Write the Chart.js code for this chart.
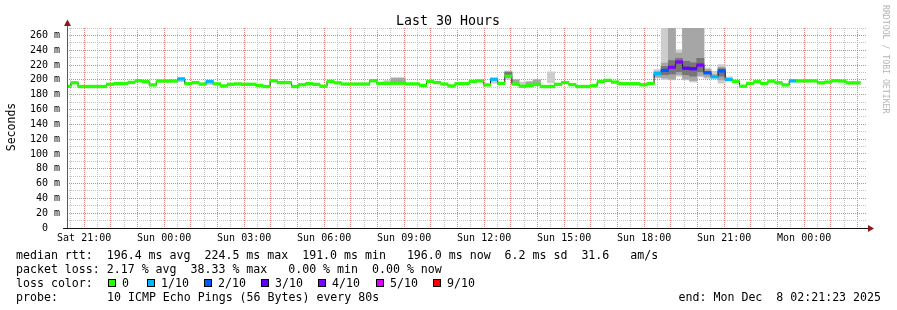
<!DOCTYPE html>
<html lang="en">
<head>
<meta charset="utf-8">
<title>Last 30 Hours</title>
<script src="https://cdn.jsdelivr.net/npm/chart.js@4.4.1/dist/chart.umd.min.js"></script>
<style>
  html, body { margin: 0; padding: 0; background: #fff; }
</style>
</head>
<body>
<canvas id="graph" width="897" height="310"></canvas>
<script>
// one rrd step = 16 minutes; x is minutes after 20:21:23 (left edge of graph)
var stepMinutes = 16;
var firstStepStart = -7;

// median rtt per step (ms), first entry is the partial step at the left edge
var median = [
  191.2,
  196, 191, 191, 191, 191, 194, 195, 195, 196.5, 198.8,
  197.5, 193.2, 198.4, 198.4, 198.4, 201.3, 194.8, 196.3, 194.3, 197.7,
  194.6, 191.8, 194, 194.5, 194, 194, 192.5, 191, 198.8, 196.3,
  196.3, 191, 193.4, 194.8, 193.9, 191.4, 198, 196, 194.3, 194.3,
  194.3, 194.3, 198.8, 195.2, 195.2, 195.5, 195.5, 194.5, 194.5, 192.5,
  198, 196.3, 194.3, 191.8, 194.8, 194.8, 197.7, 198.6, 193.2, 200.8,
  195.2, 204.9, 194.3, 191.4, 192.3, 194, 191, 191, 194, 196.3,
  193.6, 191, 191, 192.3, 197.5, 199.3, 197, 194.8, 194.8, 194.8,
  193.4, 195, 208.5, 212.7, 217, 224.1, 215.7, 215, 219.9, 209.6,
  204, 212, 200.4, 198, 191.4, 195.2, 197.5, 195, 198.3, 196.1,
  193.2, 198.6, 198.6, 198.6, 198.6, 196, 197, 198.8, 198.4, 195.9,
  196
];

// steps (index into median, counting the edge step as 0) that lost pings
var lossAt    = [16, 20, 60, 83, 84, 85, 86, 87, 88, 89, 90, 91, 92, 93, 102];
var lossLevel = [1, 1, 1, 1, 2, 4, 4, 3, 3, 4, 2, 1, 2, 1, 1];

// smoke: spread of the single pings, light outer band
var smokeAt   = [16, 20, 45, 46, 47, 60, 62, 63, 64, 65, 66, 68, 83, 84, 85, 86, 87, 88, 89, 90, 91, 92, 93];
var smokeLow  = [197.5, 193.6, 195, 195, 195, 195.5, 201, 194, 191, 191, 193, 196, 202.6, 200.4, 200, 204.8, 200, 197, 204, 202, 202.6, 195.5, 199];
var smokeHigh = [201, 198, 199, 203, 203, 200, 212, 200, 197, 198, 200, 210.7, 213.8, 300, 300, 240.5, 300, 300, 300, 216, 211.6, 220.5, 204];

// middle band
var midAt   = [46, 47, 62, 63, 65, 66, 83, 84, 85, 86, 87, 88, 89, 90, 91, 92];
var midLow  = [197, 197, 203, 196, 193, 196, 204, 202.6, 201, 207, 201, 199, 206, 204, 203, 200];
var midHigh = [202, 202, 211, 200, 197, 200, 211, 222.7, 300, 236, 300, 300, 300, 214, 207, 217];

// dark core
var coreAt   = [62, 84, 85, 86, 87, 88, 89, 92];
var coreLow  = [205, 207, 208, 211, 207, 205, 211, 205];
var coreHigh = [210, 218, 226, 229, 225, 223, 229, 215];

var xTickLabels = ['Sat 21:00', 'Sun 00:00', 'Sun 03:00', 'Sun 06:00', 'Sun 09:00',
                   'Sun 12:00', 'Sun 15:00', 'Sun 18:00', 'Sun 21:00', 'Mon 00:00'];
var firstLabelMinute = 38.617;   // 21:00 - 20:21:23
var offsetInHour = 21.383;       // left edge is 21.383 min past the hour

var lossColors = ['#26ff00', '#00b8ff', '#0059ff', '#5e00ff', '#7e00ff', '#dd00ff', '#ff0000'];
var lossNames  = ['0', '1/10', '2/10', '3/10', '4/10', '5/10', '9/10'];

var MONO = '"DejaVu Sans Mono", "Liberation Mono", monospace';
var RED_GRID = '#e88080';
var GRAY_GRID = '#c4c4c4';

function stepCenter(i) {
  return firstStepStart + stepMinutes * (i + 0.5);
}

function lossOf(i) {
  var k = lossAt.indexOf(i);
  return k < 0 ? 0 : lossLevel[k];
}

function bandData(at, low, high) {
  return at.map(function (s, k) { return {x: stepCenter(s), y: [low[k], high[k]]}; });
}

var medianBand = median.map(function (m, i) { return {x: stepCenter(i), y: [m - 1.7, m + 1.7]}; });
var medianLine = median.map(function (m, i) { return {x: stepCenter(i), y: m}; });
var bandColors = median.map(function (m, i) { return lossColors[lossOf(i)]; });

var barBase = {
  type: 'bar', grouped: false, categoryPercentage: 1, barPercentage: 1,
  borderWidth: 0, inflateAmount: 0.4
};

function bars(extra) {
  return Object.assign({}, barBase, extra);
}

var extras = {
  id: 'extras',
  afterDraw: function (chart) {
    var c = chart.ctx;
    var a = chart.chartArea;
    c.save();

    // axes and arrows
    c.strokeStyle = '#5a5a5a';
    c.lineWidth = 1;
    c.beginPath();
    c.moveTo(a.left + 0.5, a.bottom);
    c.lineTo(a.left + 0.5, 24);
    c.stroke();
    c.strokeStyle = '#111';
    c.beginPath();
    c.moveTo(63, a.bottom + 0.5);
    c.lineTo(a.right + 2, a.bottom + 0.5);
    c.stroke();
    c.fillStyle = '#8b1a1a';
    c.beginPath();
    c.moveTo(a.left + 0.5, 19.5);
    c.lineTo(a.left - 3, 26);
    c.lineTo(a.left + 4, 26);
    c.closePath();
    c.fill();
    c.beginPath();
    c.moveTo(a.right + 7, a.bottom + 0.5);
    c.lineTo(a.right + 1, a.bottom - 3);
    c.lineTo(a.right + 1, a.bottom + 4);
    c.closePath();
    c.fill();

    // title
    c.fillStyle = '#000';
    c.font = '13.3px ' + MONO;
    c.textAlign = 'center';
    c.textBaseline = 'alphabetic';
    c.fillText('Last 30 Hours', 448, 25);

    // y axis title
    c.save();
    c.translate(12, 127);
    c.rotate(-Math.PI / 2);
    c.font = '11.5px ' + MONO;
    c.textBaseline = 'middle';
    c.fillText('Seconds', 0, 0);
    c.restore();

    // watermark
    c.save();
    c.translate(885, 5);
    c.rotate(Math.PI / 2);
    c.font = '8.2px ' + MONO;
    c.fillStyle = '#b4b4b4';
    c.textAlign = 'left';
    c.textBaseline = 'middle';
    c.fillText('RRDTOOL / TOBI OETIKER', 0, 0);
    c.restore();

    // legend lines
    c.font = '11.6px ' + MONO;
    c.textAlign = 'left';
    c.fillStyle = '#000';
    c.fillText('median rtt:  196.4 ms avg  224.5 ms max  191.0 ms min   196.0 ms now  6.2 ms sd  31.6   am/s', 16, 259);
    c.fillText('packet loss: 2.17 % avg  38.33 % max   0.00 % min  0.00 % now', 16, 273);
    c.fillText('loss color:', 16, 287);
    c.fillText('probe:', 16, 301);
    c.fillText('10 ICMP Echo Pings (56 Bytes) every 80s', 107, 301);
    c.textAlign = 'right';
    c.fillText('end: Mon Dec  8 02:21:23 2025', 881, 301);

    var boxX = [108, 147, 204, 261, 318, 376, 433];
    c.textAlign = 'left';
    boxX.forEach(function (x, i) {
      c.fillStyle = lossColors[i];
      c.fillRect(x, 279, 8, 8);
      c.strokeStyle = '#000';
      c.strokeRect(x + 0.5, 279.5, 7, 7);
      c.fillStyle = '#000';
      c.fillText(lossNames[i], x + 14, 287);
    });
    c.restore();
  }
};

function hourly(v) {
  var m = (v + offsetInHour) % 60;
  return m < 0.5 || m > 59.5;
}

new Chart(document.getElementById('graph'), {
  type: 'bar',
  data: {
    datasets: [
      bars({data: medianBand, backgroundColor: bandColors, order: 0}),
      {type: 'line', data: medianLine, stepped: 'middle', borderColor: '#202020',
       borderWidth: 1, pointRadius: 0, fill: false, order: 1},
      bars({data: bandData(coreAt, coreLow, coreHigh), backgroundColor: '#767676', order: 2}),
      bars({data: bandData(midAt, midLow, midHigh), backgroundColor: '#a6a6a6', order: 3}),
      bars({data: bandData(smokeAt, smokeLow, smokeHigh), backgroundColor: '#cdcdcd', order: 4})
    ]
  },
  options: {
    responsive: false,
    animation: false,
    devicePixelRatio: 1,
    layout: {padding: {left: 0, right: 30, top: 28, bottom: 0}},
    plugins: {legend: {display: false}, tooltip: {enabled: false}},
    scales: {
      x: {
        type: 'linear', min: 0, max: 1800, offset: false,
        afterFit: function (s) { s.height = 82; },
        afterBuildTicks: function (s) {
          var t = [];
          for (var m = 30 - offsetInHour; m < 1800; m += 30) t.push({value: m});
          s.ticks = t;
        },
        border: {display: false, dash: [1, 1]},
        grid: {
          offset: false, drawTicks: false, lineWidth: 1,
          color: function (ctx) {
            return ctx.tick && hourly(ctx.tick.value) ? RED_GRID : GRAY_GRID;
          }
        },
        ticks: {
          autoSkip: false, maxRotation: 0, minRotation: 0, padding: 4,
          color: '#000', font: {family: MONO, size: 10},
          callback: function (v) {
            for (var i = 0; i < xTickLabels.length; i++) {
              if (Math.abs(firstLabelMinute + 180 * i - v) < 0.5) return xTickLabels[i];
            }
            return '';
          }
        }
      },
      // minor 10 m lines
      yMinor: {
        position: 'left', min: 0, max: 270,
        afterFit: function (s) { s.width = 0; },
        afterBuildTicks: function (s) {
          var t = [];
          for (var v = 10; v <= 270; v += 20) t.push({value: v});
          s.ticks = t;
        },
        border: {display: false, dash: [1, 1]},
        grid: {drawTicks: false, lineWidth: 1, color: GRAY_GRID},
        ticks: {display: false}
      },
      y: {
        position: 'left', min: 0, max: 270,
        afterFit: function (s) { s.width = 67; },
        afterBuildTicks: function (s) {
          var t = [];
          for (var v = 0; v <= 260; v += 20) t.push({value: v});
          s.ticks = t;
        },
        border: {display: false, dash: [1, 1]},
        grid: {drawTicks: false, lineWidth: 1, color: RED_GRID},
        ticks: {
          autoSkip: false, padding: 7,
          color: '#000', font: {family: MONO, size: 10},
          callback: function (v) {
            return v === 0 ? '0  ' : v + ' m';
          }
        }
      }
    }
  },
  plugins: [extras]
});
</script>
</body>
</html>
